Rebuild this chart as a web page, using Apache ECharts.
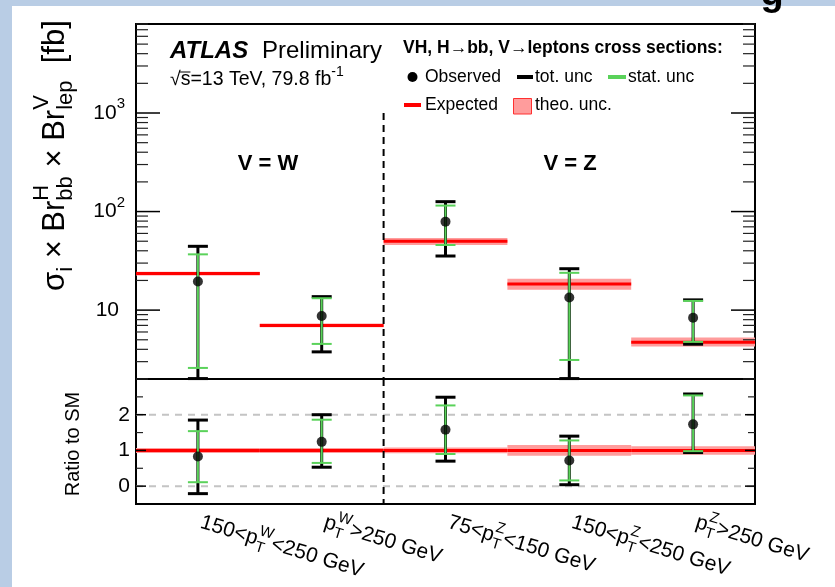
<!DOCTYPE html>
<html><head><meta charset="utf-8">
<script src="https://cdn.jsdelivr.net/npm/echarts@6/dist/echarts.min.js"></script>
<style>
html,body{margin:0;padding:0;background:#fff;width:835px;height:587px;overflow:hidden}
#topstrip{position:absolute;left:0;top:0;width:835px;height:6px;background:#b9cde5}
#leftstrip{position:absolute;left:0;top:0;width:12px;height:587px;background:#b9cde5}
#chart{position:absolute;left:0;top:0;width:835px;height:587px}
</style></head><body><div id="topstrip"></div><div id="leftstrip"></div><div id="chart"></div>
<script>
// ---------------- data ----------------
const categories = ['150<pT^W<250 GeV', 'pT^W>250 GeV', '75<pT^Z<150 GeV', '150<pT^Z<250 GeV', 'pT^Z>250 GeV'];
const xLabelParts = [
  ['150<p', 'W', 'T', '<250 GeV'],
  ['p', 'W', 'T', '>250 GeV'],
  ['75<p', 'Z', 'T', '<150 GeV'],
  ['150<p', 'Z', 'T', '<250 GeV'],
  ['p', 'Z', 'T', '>250 GeV']
];
// cross sections [fb]
const observed  = [19.5, 8.7, 79, 13.4, 8.35];
const totUp     = [44.4, 13.7, 126, 26.3, 12.7];
const totDown   = [2.02, 3.77, 35.4, 2.02, 4.51];
const statUp    = [36.8, 13.2, 115, 23.9, 12.4];
const statDown  = [2.59, 4.54, 45.8, 3.12, 4.76];
const expected  = [23.5, 7.0, 50, 18.4, 4.72];
const theoUp    = [24.5, 7.3, 54.0, 20.8, 5.26];
const theoDown  = [22.5, 6.7, 45.9, 16.1, 4.27];
// ratio to SM
const ratioObs      = [0.83, 1.24, 1.58, 0.72, 1.73];
const ratioTotUp    = [1.85, 2.0, 2.49, 1.40, 2.58];
const ratioTotDown  = [-0.21, 0.53, 0.70, 0.04, 0.94];
const ratioStatUp   = [1.54, 1.86, 2.26, 1.28, 2.54];
const ratioStatDown = [0.11, 0.65, 0.90, 0.16, 0.98];
const ratioExp      = [1, 1, 1, 1, 1];
const ratioTheoUp   = [1.07, 1.07, 1.08, 1.15, 1.12];
const ratioTheoDown = [0.93, 0.93, 0.92, 0.85, 0.88];
// axes
const upperRange = [2, 8000];
const upperMajorTicks = [10, 100, 1000];
const upperMinorTicks = [2,3,4,5,6,7,8,9,20,30,40,50,60,70,80,90,200,300,400,500,600,700,800,900,2000,3000,4000,5000,6000,7000,8000];
const ratioRange = [-0.5, 3];
const ratioMajorTicks = [0, 1, 2];
const ratioMinorTicks = [0.5, 1.5, 2.5];
const ratioRefLines = [0, 2];
const separatorTop = 1000;

// ---------------- helpers ----------------
const FONT = '"Liberation Sans", Arial, Helvetica, sans-serif';
const mctx = document.createElement('canvas').getContext('2d');
function tw(t, size, weight, style) {
  mctx.font = (style || 'normal') + ' ' + (weight || 'normal') + ' ' + size + 'px ' + FONT;
  return mctx.measureText(t).width;
}
function txt(t, x, y, size, o) {
  o = o || {};
  return {type: 'text', x: x, y: y, silent: true, style: {text: t, fontSize: size, fontFamily: FONT,
    fontWeight: o.weight || 'normal', fontStyle: o.style || 'normal', fill: o.color || '#000',
    align: 'left', verticalAlign: 'middle'}};
}
function richParts(parts, size, o) {
  o = o || {};
  const children = [];
  let x = 0;
  const ss = Math.round(size * (o.scale || 0.7));
  parts.forEach(function (p) {
    if (typeof p === 'string') {
      children.push(txt(p, x, 0, size, o));
      x += tw(p, size, o.weight, o.style);
    } else {
      let w = 0;
      if (p.sup) { children.push(txt(p.sup, x, -size * 0.42, ss, o)); w = Math.max(w, tw(p.sup, ss, o.weight, o.style)); }
      if (p.sub) { children.push(txt(p.sub, x, size * 0.36, ss, o)); w = Math.max(w, tw(p.sub, ss, o.weight, o.style)); }
      x += w + (p.gap || 0);
    }
  });
  return {children: children, width: x};
}

const GREEN = '#5ad25a';
const PINK = '#ff9c9c';
const RED = '#ff0000';

function idxData(a) { return a.map(function (v, i) { return [i, v]; }); }
function rangeData(lo, hi) { return lo.map(function (v, i) { return [i, v, hi[i]]; }); }

function bandRender(params, api) {
  const c = api.coord([api.value(0), api.value(1)]);
  const c2 = api.coord([api.value(0), api.value(2)]);
  const bw = api.size([1, 0])[0];
  return {type: 'rect', shape: {x: c[0] - bw / 2, y: c2[1], width: bw, height: c[1] - c2[1]},
    style: {fill: PINK}};
}
function lineRender(params, api) {
  const c = api.coord([api.value(0), api.value(1)]);
  const bw = api.size([1, 0])[0];
  return {type: 'line', shape: {x1: c[0] - bw / 2, y1: c[1], x2: c[0] + bw / 2, y2: c[1]},
    style: {stroke: RED, lineWidth: 3}};
}
function errRender(color, lw) {
  return function (params, api) {
    const lo = api.coord([api.value(0), api.value(1)]);
    const hi = api.coord([api.value(0), api.value(2)]);
    const h = 10;
    const st = {stroke: color, lineWidth: lw};
    return {type: 'group', children: [
      {type: 'line', shape: {x1: lo[0], y1: lo[1], x2: hi[0], y2: hi[1]}, style: st},
      {type: 'line', shape: {x1: lo[0] - h, y1: lo[1], x2: lo[0] + h, y2: lo[1]}, style: st},
      {type: 'line', shape: {x1: hi[0] - h, y1: hi[1], x2: hi[0] + h, y2: hi[1]}, style: st}
    ]};
  };
}
function tickRender(majLen, minLen, labelFn) {
  return function (params, api) {
    const v = api.value(1), major = api.value(2);
    const y = api.coord([0, v])[1];
    const cs = params.coordSys;
    const L = major ? majLen : minLen;
    const st = {stroke: major ? '#000' : '#222', lineWidth: major ? 1.5 : 1.2};
    const ch = [
      {type: 'line', shape: {x1: cs.x, y1: y, x2: cs.x + L, y2: y}, style: st},
      {type: 'line', shape: {x1: cs.x + cs.width, y1: y, x2: cs.x + cs.width - L, y2: y}, style: st}
    ];
    if (major) {
      const lab = labelFn(v);
      ch.push({type: 'group', x: cs.x - lab.right - lab.width, y: y, children: lab.children});
    }
    return {type: 'group', children: ch};
  };
}
function upperLabel(v) {
  const n = Math.round(Math.log10(v));
  const r = n === 1 ? richParts(['10'], 21) : richParts(['10', {sup: String(n)}], 21, {scale: 0.72});
  r.right = n === 1 ? 17 : 11;
  return r;
}
function ratioLabel(v) {
  const r = richParts([String(v)], 21);
  r.right = 6;
  return r;
}
function tickData(major, minor) {
  return major.map(function (v) { return [0, v, 1]; }).concat(minor.map(function (v) { return [0, v, 0]; }));
}
function sepRender(topVal) {
  return function (params, api) {
    const cs = params.coordSys;
    const c = api.coord([1, topVal === null ? 0 : topVal]);
    const bw = api.size([1, 0])[0];
    const x = c[0] + bw / 2;
    const y1 = topVal === null ? cs.y : c[1];
    return {type: 'line', shape: {x1: x, y1: y1, x2: x, y2: cs.y + cs.height},
      style: {stroke: '#000', lineWidth: 2, lineDash: [7, 5]}};
  };
}
function refRender(params, api) {
  const cs = params.coordSys;
  const y = api.coord([0, api.value(1)])[1];
  return {type: 'line', shape: {x1: cs.x, y1: y, x2: cs.x + cs.width, y2: y},
    style: {stroke: '#c4c4c4', lineWidth: 2, lineDash: [7, 6]}};
}
function xLabelRender(params, api) {
  const i = api.value(0);
  const c = api.coord([i, api.value(1)]);
  const p = xLabelParts[i];
  const r = richParts([p[0], {sup: p[1], sub: p[2], gap: 1}, p[3]], 21, {scale: 0.72});
  return {type: 'group', x: c[0] + 3, y: params.coordSys.y + params.coordSys.height + 18,
    rotation: -17 * Math.PI / 180, children: r.children};
}

// static texts
const yTitle = richParts(['σ', {sub: 'i'}, ' × Br', {sup: 'H', sub: 'bb'}, ' × Br', {sup: 'V', sub: 'lep'}, '  [fb]'], 31, {scale: 0.7});
const lumi = richParts(['√s=13 TeV, 79.8 fb', {sup: '-1'}], 19.5, {scale: 0.72});
const sqrtW = tw('√', 19.5), sW = tw('s', 19.5);

const graphic = [
  {type: 'text', x: 772, y: -5, style: {text: 'g', fontSize: 38, fontWeight: 'bold', fontFamily: FONT, fill: '#000', align: 'center', verticalAlign: 'middle'}},
  {type: 'group', x: 55, y: 291, rotation: Math.PI / 2, children: yTitle.children},
  {type: 'text', x: 73, y: 444, rotation: Math.PI / 2, style: {text: 'Ratio to SM', fontSize: 20, fontFamily: FONT, fill: '#000', align: 'center', verticalAlign: 'middle'}},
  {type: 'text', x: 170, y: 51, style: {text: 'ATLAS', fontSize: 24, fontWeight: 'bold', fontStyle: 'italic', fontFamily: FONT, fill: '#000', align: 'left', verticalAlign: 'middle'}},
  {type: 'text', x: 262, y: 51, style: {text: 'Preliminary', fontSize: 24, fontFamily: FONT, fill: '#000', align: 'left', verticalAlign: 'middle'}},
  {type: 'group', x: 170, y: 80, children: lumi.children},
  {type: 'line', shape: {x1: 170 + sqrtW - 1, y1: 80 - 8, x2: 170 + sqrtW + sW, y2: 80 - 8}, style: {stroke: '#000', lineWidth: 1}},
  {type: 'text', x: 403, y: 48, style: {text: 'VH, H→bb, V→leptons cross sections:', fontSize: 17.5, fontWeight: 'bold', fontFamily: FONT, fill: '#000', align: 'left', verticalAlign: 'middle'}},
  {type: 'circle', shape: {cx: 412.5, cy: 77, r: 5}, style: {fill: '#000'}},
  {type: 'text', x: 425, y: 77, style: {text: 'Observed', fontSize: 17.5, fontFamily: FONT, fill: '#000', align: 'left', verticalAlign: 'middle'}},
  {type: 'line', shape: {x1: 517, y1: 77, x2: 533, y2: 77}, style: {stroke: '#000', lineWidth: 4}},
  {type: 'text', x: 535, y: 77, style: {text: 'tot. unc', fontSize: 17.5, fontFamily: FONT, fill: '#000', align: 'left', verticalAlign: 'middle'}},
  {type: 'line', shape: {x1: 608, y1: 77, x2: 626, y2: 77}, style: {stroke: GREEN, lineWidth: 4}},
  {type: 'text', x: 628, y: 77, style: {text: 'stat. unc', fontSize: 17.5, fontFamily: FONT, fill: '#000', align: 'left', verticalAlign: 'middle'}},
  {type: 'line', shape: {x1: 404, y1: 105, x2: 421, y2: 105}, style: {stroke: RED, lineWidth: 4}},
  {type: 'text', x: 425, y: 105, style: {text: 'Expected', fontSize: 17.5, fontFamily: FONT, fill: '#000', align: 'left', verticalAlign: 'middle'}},
  {type: 'rect', shape: {x: 513.5, y: 98.5, width: 18, height: 15.5}, style: {fill: PINK, stroke: '#ff3030', lineWidth: 1}},
  {type: 'text', x: 535, y: 105, style: {text: 'theo. unc.', fontSize: 17.5, fontFamily: FONT, fill: '#000', align: 'left', verticalAlign: 'middle'}},
  {type: 'text', x: 268, y: 164, style: {text: 'V = W', fontSize: 22, fontWeight: 'bold', fontFamily: FONT, fill: '#000', align: 'center', verticalAlign: 'middle'}},
  {type: 'text', x: 570, y: 164, style: {text: 'V = Z', fontSize: 22, fontWeight: 'bold', fontFamily: FONT, fill: '#000', align: 'center', verticalAlign: 'middle'}}
];

const option = {
  animation: false,
  backgroundColor: 'transparent',
  grid: [
    {left: 136, top: 24, width: 619, height: 355, show: true, borderColor: '#000', borderWidth: 2, backgroundColor: 'transparent'},
    {left: 136, top: 379, width: 619, height: 125, show: true, borderColor: '#000', borderWidth: 2, backgroundColor: 'transparent'}
  ],
  xAxis: [
    {gridIndex: 0, type: 'category', data: categories, boundaryGap: true, show: false},
    {gridIndex: 1, type: 'category', data: categories, boundaryGap: true, show: false}
  ],
  yAxis: [
    {gridIndex: 0, type: 'log', logBase: 10, min: upperRange[0], max: upperRange[1], show: false},
    {gridIndex: 1, type: 'value', min: ratioRange[0], max: ratioRange[1], show: false}
  ],
  graphic: graphic,
  series: [
    // upper panel
    {type: 'custom', xAxisIndex: 0, yAxisIndex: 0, z: 1, renderItem: bandRender, data: rangeData(theoDown, theoUp)},
    {type: 'custom', xAxisIndex: 0, yAxisIndex: 0, z: 2, renderItem: lineRender, data: idxData(expected)},
    {type: 'custom', xAxisIndex: 0, yAxisIndex: 0, z: 3, renderItem: sepRender(separatorTop), data: [[1, separatorTop]], clip: false},
    {type: 'custom', xAxisIndex: 0, yAxisIndex: 0, z: 4, renderItem: errRender('#000', 3), data: rangeData(totDown, totUp)},
    {type: 'custom', xAxisIndex: 0, yAxisIndex: 0, z: 5, renderItem: errRender(GREEN, 2), data: rangeData(statDown, statUp)},
    {type: 'scatter', xAxisIndex: 0, yAxisIndex: 0, z: 6, symbol: 'circle', symbolSize: 10, itemStyle: {color: '#000'}, data: idxData(observed)},
    {type: 'custom', xAxisIndex: 0, yAxisIndex: 0, z: 7, renderItem: tickRender(24, 12, upperLabel), data: tickData(upperMajorTicks, upperMinorTicks), clip: false},
    // ratio panel
    {type: 'custom', xAxisIndex: 1, yAxisIndex: 1, z: 1, renderItem: refRender, data: ratioRefLines.map(function (v) { return [0, v]; })},
    {type: 'custom', xAxisIndex: 1, yAxisIndex: 1, z: 1, renderItem: bandRender, data: rangeData(ratioTheoDown, ratioTheoUp)},
    {type: 'custom', xAxisIndex: 1, yAxisIndex: 1, z: 2, renderItem: lineRender, data: idxData(ratioExp)},
    {type: 'custom', xAxisIndex: 1, yAxisIndex: 1, z: 3, renderItem: sepRender(null), data: [[1, 0]], clip: false},
    {type: 'custom', xAxisIndex: 1, yAxisIndex: 1, z: 4, renderItem: errRender('#000', 3), data: rangeData(ratioTotDown, ratioTotUp)},
    {type: 'custom', xAxisIndex: 1, yAxisIndex: 1, z: 5, renderItem: errRender(GREEN, 2), data: rangeData(ratioStatDown, ratioStatUp)},
    {type: 'scatter', xAxisIndex: 1, yAxisIndex: 1, z: 6, symbol: 'circle', symbolSize: 10, itemStyle: {color: '#000'}, data: idxData(ratioObs)},
    {type: 'custom', xAxisIndex: 1, yAxisIndex: 1, z: 7, renderItem: tickRender(10, 7, ratioLabel), data: tickData(ratioMajorTicks, ratioMinorTicks), clip: false},
    {type: 'custom', xAxisIndex: 1, yAxisIndex: 1, z: 7, renderItem: xLabelRender, data: categories.map(function (c, i) { return [i, ratioRange[0]]; }), clip: false}
  ]
};
const chart = echarts.init(document.getElementById('chart'), null, {renderer: 'canvas', width: 835, height: 587});
chart.setOption(option);
</script></body></html>
